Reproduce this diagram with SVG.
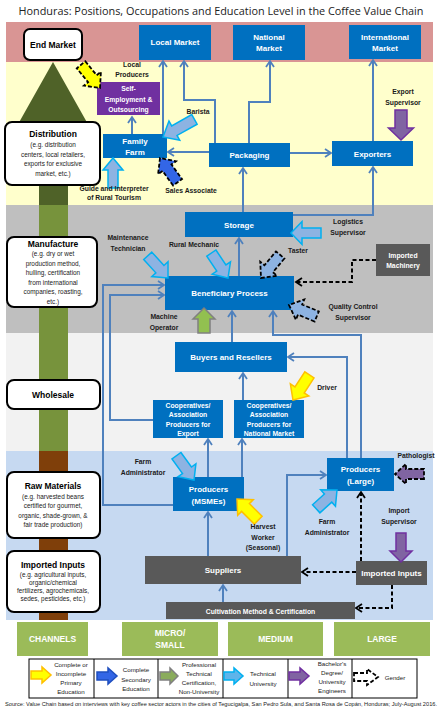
<svg xmlns="http://www.w3.org/2000/svg" width="439" height="715" viewBox="0 0 439 715">
<style>
text{font-family:"Liberation Sans",Arial,sans-serif}
.bx{fill:#0070c0}
.gy{fill:#595959}
.bt{fill:#fff;font-weight:bold;font-size:8px;text-anchor:middle}
.bs{fill:#fff;font-weight:bold;font-size:6.8px;text-anchor:middle}
.lb{fill:#1a1a1a;font-weight:bold;font-size:6.8px;text-anchor:middle}
.lbox{fill:#fff;stroke:#000;stroke-width:2}
.lt{fill:#000;font-weight:bold;font-size:8.5px;text-anchor:middle}
.ls{fill:#222;font-size:6.4px;text-anchor:middle}
.lg{fill:#222;font-size:6.2px;text-anchor:middle}
.ch{fill:#9bbb59}
.cht{fill:#fff;font-weight:bold;font-size:8.5px;text-anchor:middle}
.c{fill:none;stroke:#4f81bd;stroke-width:2;marker-end:url(#ab)}
.d{fill:none;stroke:#000;stroke-width:2;stroke-dasharray:4 2.5;marker-end:url(#ak)}
.tech{fill:#8db3e2;stroke:#00b0f0;stroke-width:1.5}
.prim{fill:#ffff00;stroke:#ffc000;stroke-width:1.5}
.sec{fill:#3366e6;stroke:#1f4fbf;stroke-width:1.5}
.prof{fill:#92c050;stroke:#808080;stroke-width:1.5}
.bach{fill:#8064a2;stroke:#7030a0;stroke-width:1.5}
.gen{stroke:#000;stroke-width:1.8;stroke-dasharray:4 2}
</style>
<defs>
<marker id="ab" markerUnits="userSpaceOnUse" markerWidth="10" markerHeight="10" refX="7" refY="5" orient="auto">
<path d="M1,1 L7,5 L1,9" fill="none" stroke="#4f81bd" stroke-width="1.8"/>
</marker>
<marker id="ak" markerUnits="userSpaceOnUse" markerWidth="10" markerHeight="10" refX="7" refY="5" orient="auto">
<path d="M1,1 L7,5 L1,9" fill="none" stroke="#000" stroke-width="1.8"/>
</marker>
</defs>
<rect width="439" height="715" fill="#fff"/>
<text x="221" y="15" font-size="10" text-anchor="middle" textLength="405" lengthAdjust="spacingAndGlyphs" fill="#222" style="font-family:'Open Sans','Liberation Sans',sans-serif">Honduras: Positions, Occupations and Education Level in the Coffee Value Chain</text>
<g id="bands">
<rect x="6" y="22" width="427" height="40" fill="#d99594"/>
<rect x="6" y="62" width="427" height="143" fill="#ffffcc"/>
<rect x="6" y="205" width="427" height="128" fill="#bfbfbf"/>
<rect x="6" y="333" width="427" height="118" fill="#f2f2f2"/>
<rect x="6" y="451" width="427" height="169" fill="#c6d9f1"/>
</g>
<g id="stage-arrow">
<polygon points="53,62 17,126 89,126" fill="#4f6228"/>
<rect x="39" y="124" width="29" height="81" fill="#4f6228"/>
<rect x="39" y="205" width="29" height="246" fill="#77933c"/>
<rect x="39" y="451" width="29" height="169" fill="#7f3f0a"/>
</g>
<g id="stage-end-market"><rect class="lbox" x="24" y="29" width="58" height="31" rx="6"/><text class="lt" x="53" y="48">End Market</text></g>
<g id="stage-distribution"><rect class="lbox" x="5" y="122" width="95" height="63" rx="7"/>
<text class="lt" x="53" y="137">Distribution</text>
<text class="ls" x="53" y="147">(e.g. distribution</text>
<text class="ls" x="53" y="156.5">centers, local retailers,</text>
<text class="ls" x="53" y="166">exports for exclusive</text>
<text class="ls" x="53" y="175.5">market, etc.)</text></g>
<g id="stage-manufacture"><rect class="lbox" x="7" y="237" width="90" height="70" rx="7"/>
<text class="lt" x="53" y="247">Manufacture</text>
<text class="ls" x="53" y="256">(e.g. dry or wet</text>
<text class="ls" x="53" y="265.5">production method,</text>
<text class="ls" x="53" y="275">hulling, certification</text>
<text class="ls" x="53" y="284.5">from international</text>
<text class="ls" x="53" y="294">companies, roasting,</text>
<text class="ls" x="53" y="303.5">etc.)</text></g>
<g id="stage-wholesale"><rect class="lbox" x="7" y="380" width="93" height="29" rx="7"/><text class="lt" x="53" y="398">Wholesale</text></g>
<g id="stage-raw"><rect class="lbox" x="7" y="472" width="93" height="66" rx="7"/>
<text class="lt" x="53" y="489">Raw Materials</text>
<text class="ls" x="53" y="498.5">(e.g. harvested beans</text>
<text class="ls" x="53" y="508">certified for gourmet,</text>
<text class="ls" x="53" y="517.5">organic, shade-grown, &amp;</text>
<text class="ls" x="53" y="527">fair trade production)</text></g>
<g id="stage-imported"><rect class="lbox" x="7" y="551" width="93" height="61" rx="7"/>
<text class="lt" x="53" y="568">Imported Inputs</text>
<text class="ls" x="53" y="577">(e.g. agricultural inputs,</text>
<text class="ls" x="53" y="585">organic/chemical</text>
<text class="ls" x="53" y="593">fertilizers, agrochemicals,</text>
<text class="ls" x="53" y="601">sedes, pesticides, etc.)</text></g>
<g id="connectors">
<path class="c" d="M132,134 V117"/>
<path class="c" d="M209,152 H168"/>
<path class="c" d="M163,134 V61"/>
<path class="c" d="M215,143 V100 H184 V61"/>
<path class="c" d="M249,143 V102 H270 V61"/>
<path class="c" d="M290,153 H331"/>
<path class="c" d="M373,141 V60"/>
<path class="c" d="M243,212 V168"/>
<path class="c" d="M293,215 H373 V167"/>
<path class="c" d="M239,276 V238"/>
<path class="c" d="M232,342 V311"/>
<path class="c" d="M173,505 H103 V285 H164"/>
<path class="c" d="M153,420 H110 V295 H164"/>
<path class="c" d="M361,458 V335 H273 V311"/>
<path class="c" d="M347,458 V357 H288"/>
<path class="c" d="M243,400 V373"/>
<path class="c" d="M208,477 V439"/>
<path class="c" d="M242,477 V439"/>
<path class="c" d="M208,556 V512"/>
<path class="c" d="M287,556 V475 H326"/>
<path class="c" d="M223,602 V585"/>
<path class="d" d="M376,260 H352 V282 H296"/>
<path class="d" d="M356,572 H302"/>
<path class="d" d="M361,561 V492"/>
<path class="d" d="M392,585 V608 H356"/>
</g>
<g id="local-market"><rect class="bx" x="139" y="25" width="72" height="35"/><text class="bt" x="175" y="45">Local Market</text></g>
<g id="national-market"><rect class="bx" x="233" y="25" width="72" height="35"/><text class="bt" x="269" y="39.5">National</text><text class="bt" x="269" y="50.5">Market</text></g>
<g id="international-market"><rect class="bx" x="349" y="25" width="72" height="34"/><text class="bt" x="385" y="39.5">International</text><text class="bt" x="385" y="50.5">Market</text></g>
<g id="self-employment"><rect x="97" y="82" width="63" height="33" fill="#7030a0"/><text class="bs" x="128.5" y="91">Self-</text><text class="bs" x="128.5" y="101.5">Employment &amp;</text><text class="bs" x="128.5" y="112">Outsourcing</text></g>
<g id="family-farm"><rect class="bx" x="103" y="134" width="64" height="24"/><text class="bt" x="135" y="144">Family</text><text class="bt" x="135" y="155">Farm</text></g>
<g id="packaging"><rect class="bx" x="209" y="143" width="81" height="24"/><text class="bt" x="249.5" y="158">Packaging</text></g>
<g id="exporters"><rect class="bx" x="332" y="141" width="81" height="25"/><text class="bt" x="372.5" y="156.5">Exporters</text></g>
<g id="storage"><rect class="bx" x="185" y="212" width="108" height="25"/><text class="bt" x="239" y="227.5">Storage</text></g>
<g id="beneficiary-process"><rect class="bx" x="165" y="276" width="129" height="34"/><text class="bt" x="229.5" y="296">Beneficiary Process</text></g>
<g id="imported-machinery"><rect class="gy" x="376" y="244" width="54" height="32"/><text class="bs" x="403" y="257.5">Imported</text><text class="bs" x="403" y="268">Machinery</text></g>
<g id="buyers-resellers"><rect class="bx" x="175" y="342" width="112" height="30"/><text class="bt" x="231" y="360">Buyers and Resellers</text></g>
<g id="coop-export"><rect class="bx" x="153" y="400" width="70" height="38"/>
<text class="bs" x="188" y="407.5">Cooperatives/</text><text class="bs" x="188" y="417">Association</text><text class="bs" x="188" y="426.5">Producers for</text><text class="bs" x="188" y="436">Export</text></g>
<g id="coop-national"><rect class="bx" x="234" y="400" width="70" height="38"/>
<text class="bs" x="269" y="407.5">Cooperatives/</text><text class="bs" x="269" y="417">Association</text><text class="bs" x="269" y="426.5">Producers for</text><text class="bs" x="269" y="436">National Market</text></g>
<g id="producers-msmes"><rect class="bx" x="173" y="477" width="71" height="34"/><text class="bt" x="208.5" y="492">Producers</text><text class="bt" x="208.5" y="504">(MSMEs)</text></g>
<g id="producers-large"><rect class="bx" x="327" y="458" width="67" height="33"/><text class="bt" x="360.5" y="472">Producers</text><text class="bt" x="360.5" y="484">(Large)</text></g>
<g id="suppliers"><rect class="gy" x="145" y="556" width="156" height="28"/><text class="bt" x="223" y="573">Suppliers</text></g>
<g id="imported-inputs"><rect class="gy" x="356" y="561" width="71" height="24"/><text class="bt" x="391.5" y="576">Imported Inputs</text></g>
<g id="cultivation"><rect class="gy" x="166" y="602" width="189" height="17"/><text class="bs" x="260.5" y="613.5">Cultivation Method &amp; Certification</text></g>
<g id="roles">
<g id="role-local-producers"><polygon class="prim gen" points="-30,-5.5 -12,-5.5 -12,-11 0,0 -12,11 -12,5.5 -30,5.5" transform="translate(100,88) rotate(50.7)"/><text class="lb" x="132" y="67">Local</text><text class="lb" x="132" y="77">Producers</text></g>
<g id="role-barista"><polygon class="tech" points="-36,-5.5 -13,-5.5 -13,-11 0,0 -13,11 -13,5.5 -36,5.5" transform="translate(163,137) rotate(150.8)"/><text class="lb" x="198" y="114">Barista</text></g>
<g id="role-guide"><polygon class="tech" points="-30,-5 -12,-5 -12,-10 0,0 -12,10 -12,5 -30,5" transform="translate(113,158) rotate(-90)"/><text class="lb" x="114" y="191">Guide and Interpreter</text><text class="lb" x="114" y="200">of Rural Tourism</text></g>
<g id="role-sales"><polygon class="sec gen" points="-30,-5.5 -12,-5.5 -12,-11 0,0 -12,11 -12,5.5 -30,5.5" transform="translate(160,158) rotate(-125.8)"/><text class="lb" x="191" y="193">Sales Associate</text></g>
<g id="role-export-supervisor"><polygon class="bach" points="-30,-6 -12,-6 -12,-12.5 0,0 -12,12.5 -12,6 -30,6" transform="translate(401,140) rotate(90)"/><text class="lb" x="403" y="94">Export</text><text class="lb" x="403" y="105">Supervisor</text></g>
<g id="role-maintenance"><polygon class="tech" points="-30,-5.5 -12,-5.5 -12,-11 0,0 -12,11 -12,5.5 -30,5.5" transform="translate(168,278) rotate(47.6)"/><text class="lb" x="128" y="240">Maintenance</text><text class="lb" x="128" y="250.5">Technician</text></g>
<g id="role-rural-mechanic"><polygon class="tech" points="-30,-5.5 -12,-5.5 -12,-11 0,0 -12,11 -12,5.5 -30,5.5" transform="translate(228,278) rotate(56.3)"/><text class="lb" x="194" y="247">Rural Mechanic</text></g>
<g id="role-logistics"><polygon class="tech" points="-30,-5 -11,-5 -11,-11.5 0,0 -11,11.5 -11,5 -30,5" transform="translate(291,233) rotate(180)"/><text class="lb" x="348" y="224">Logistics</text><text class="lb" x="348" y="234.5">Supervisor</text></g>
<g id="role-taster"><polygon class="tech gen" points="-30,-5.5 -12,-5.5 -12,-11 0,0 -12,11 -12,5.5 -30,5.5" transform="translate(261,278) rotate(129.8)"/><text class="lb" x="298" y="253">Taster</text></g>
<g id="role-quality"><polygon class="tech gen" points="-30,-5.5 -12,-5.5 -12,-11 0,0 -12,11 -12,5.5 -30,5.5" transform="translate(289,305) rotate(-157.5)"/><text class="lb" x="353" y="309">Quality Control</text><text class="lb" x="353" y="319.5">Supervisor</text></g>
<g id="role-machine-operator"><polygon class="prof" points="-25,-6 -11,-6 -11,-11 0,0 -11,11 -11,6 -25,6" transform="translate(204,308) rotate(-90)"/><text class="lb" x="164" y="318.5">Machine</text><text class="lb" x="164" y="329.5">Operator</text></g>
<g id="role-driver"><polygon class="prim" points="-30,-5.5 -12,-5.5 -12,-11 0,0 -12,11 -12,5.5 -30,5.5" transform="translate(293,400) rotate(123.2)"/><text class="lb" x="327" y="390">Driver</text></g>
<g id="role-pathologist"><polygon class="bach gen" points="-29,-5 -11,-5 -11,-10 0,0 -11,10 -11,5 -29,5" transform="translate(395,474) rotate(180)"/><text class="lb" x="416" y="458">Pathologist</text></g>
<g id="role-farm-admin-left"><polygon class="tech" points="-30,-5.5 -12,-5.5 -12,-11 0,0 -12,11 -12,5.5 -30,5.5" transform="translate(194,480) rotate(54.2)"/><text class="lb" x="143" y="464">Farm</text><text class="lb" x="143" y="475">Administrator</text></g>
<g id="role-farm-admin-right"><polygon class="tech" points="-28,-5.5 -12,-5.5 -12,-11 0,0 -12,11 -12,5.5 -28,5.5" transform="translate(337,490) rotate(-42.1)"/><text class="lb" x="327" y="524">Farm</text><text class="lb" x="327" y="534.5">Administrator</text></g>
<g id="role-harvest"><polygon class="prim" points="-30,-5.5 -12,-5.5 -12,-11 0,0 -12,11 -12,5.5 -30,5.5" transform="translate(237,499) rotate(-135)"/><text class="lb" x="263" y="529">Harvest</text><text class="lb" x="263" y="539.5">Worker</text><text class="lb" x="263" y="550">(Seasonal)</text></g>
<g id="role-import-supervisor"><polygon class="bach" points="-29,-5 -11,-5 -11,-11 0,0 -11,11 -11,5 -29,5" transform="translate(401,562) rotate(90)"/><text class="lb" x="399" y="513">Import</text><text class="lb" x="399" y="523.5">Supervisor</text></g>
</g>
<g id="channels">
<rect class="ch" x="17" y="622" width="71" height="34"/><text class="cht" x="52.5" y="642">CHANNELS</text>
<rect class="ch" x="122" y="622" width="96" height="34"/><text class="cht" x="170" y="636">MICRO/</text><text class="cht" x="170" y="648">SMALL</text>
<rect class="ch" x="228" y="622" width="95" height="34"/><text class="cht" x="275.5" y="642">MEDIUM</text>
<rect class="ch" x="334" y="622" width="96" height="34"/><text class="cht" x="382" y="642">LARGE</text>
</g>
<g id="legend">
<rect x="29" y="659" width="388" height="39" fill="#fff" stroke="#000" stroke-width="1"/>
<path d="M94,659 V698 M158,659 V698 M223,659 V698 M288,659 V698 M352,659 V698" stroke="#000" stroke-width="1"/>
<polygon class="prim" points="-20,-4 -9,-4 -9,-8 0,0 -9,8 -9,4 -20,4" transform="translate(51,675)"/>
<text class="lg" x="71" y="667">Complete or</text><text class="lg" x="71" y="676">Incomplete</text><text class="lg" x="71" y="685">Primary</text><text class="lg" x="71" y="693.5">Education</text>
<polygon class="sec" points="-20,-4 -9,-4 -9,-8 0,0 -9,8 -9,4 -20,4" transform="translate(117,676)"/>
<text class="lg" x="136" y="672" font-size="7">Complete</text><text class="lg" x="136" y="681.5" font-size="7">Secondary</text><text class="lg" x="136" y="691" font-size="7">Education</text>
<polygon fill="#8aac5c" stroke="#808080" stroke-width="1.5" points="-18,-4 -8,-4 -8,-8 0,0 -8,8 -8,4 -18,4" transform="translate(178,676)"/>
<text class="lg" x="199" y="667" font-size="6">Professional</text><text class="lg" x="199" y="676" font-size="6">Technical</text><text class="lg" x="199" y="685" font-size="6">Certification,</text><text class="lg" x="199" y="693.5" font-size="6">Non-University</text>
<polygon fill="#5fb4ea" stroke="#00b0f0" stroke-width="1.5" points="-19,-4 -9,-4 -9,-8 0,0 -9,8 -9,4 -19,4" transform="translate(243,676)"/>
<text class="lg" x="263" y="676" font-size="7">Technical</text><text class="lg" x="263" y="685.5" font-size="7">University</text>
<polygon class="bach" points="-20,-4 -9,-4 -9,-8 0,0 -9,8 -9,4 -20,4" transform="translate(309,676)"/>
<text class="lg" x="332" y="666">Bachelor's</text><text class="lg" x="332" y="675">Degree/</text><text class="lg" x="332" y="684">University</text><text class="lg" x="332" y="693">Engineers</text>
<polygon fill="#fff" class="gen" points="-24,-4 -11,-4 -11,-8 0,0 -11,8 -11,4 -24,4" transform="translate(378,677)"/>
<text class="lg" x="395" y="679.5" font-size="6.5">Gender</text>
</g>
<text x="5" y="706" font-size="5.5" fill="#222" textLength="432" lengthAdjust="spacingAndGlyphs">Source: Value Chain based on interviews with key coffee sector actors in the cities of Tegucigalpa, San Pedro Sula,  and Santa Rosa de Copán, Honduras; July-August 2016.</text>
</svg>
